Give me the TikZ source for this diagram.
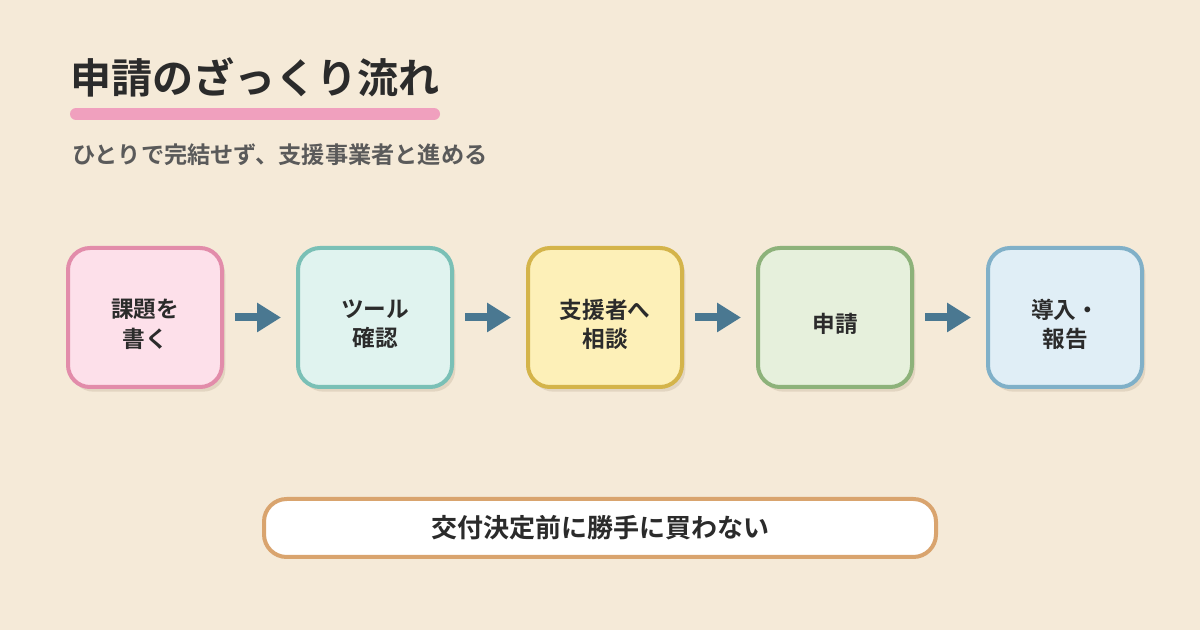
\documentclass[tikz,border=0pt]{standalone}
\usepackage{fontspec}
\setmainfont{Noto Sans CJK JP}[BoldFont=Noto Sans CJK JP Bold]
\usetikzlibrary{positioning,shadows,arrows.meta}
\definecolor{bgcream}{HTML}{F5EAD8}
\definecolor{textdark}{HTML}{2B2B2B}
\definecolor{textgray}{HTML}{5A5A5A}
\definecolor{barpink}{HTML}{F0A0BE}
\definecolor{arrowblue}{HTML}{4A7891}
\definecolor{notebrown}{HTML}{D9A46E}
\tikzset{
    title text/.style={inner sep=0pt, text=textdark, font=\fontsize{30.8}{36}\selectfont\bfseries},
    sub text/.style={inner sep=0pt, text=textgray, font=\fontsize{17.4}{21}\selectfont\bfseries},
    step box/.style={rounded corners=16.5pt, draw, line width=3pt, minimum width=115.5pt, minimum height=104.25pt,
        outer sep=0pt,
        drop shadow={shadow xshift=2.5pt, shadow yshift=-3.5pt, fill=brown!50!black, opacity=0.12}},
    box text/.style={label={[align=center, text=textdark, yshift=-5pt,
        font=\fontsize{17}{22}\selectfont\bfseries]center:#1}},
    flow arrow/.style={draw=arrowblue, line width=6pt, -{Triangle[length=18pt,width=21pt]},
        shorten <=9.75pt, shorten >=12.75pt},
    note box/.style={rounded corners=17pt, draw=notebrown, fill=white, line width=3pt, minimum width=504pt,
        minimum height=43.5pt, text=textdark, font=\fontsize{19.5}{24}\selectfont\bfseries},
}
\begin{document}
\begin{tikzpicture}[x=0.75pt, y=-0.75pt, node distance=57pt]
    \fill[bgcream] (0,0) rectangle (1200,630);

    % heading
    \node[title text, anchor=west] (title) at (70,77) {申請のざっくり流れ};
    \draw[barpink, line width=9pt, line cap=round] (76,114) -- (434,114);
    \node[sub text, anchor=west] (sub) at (72,155) {ひとりで完結せず、支援事業者と進める};

    % steps
    \node[step box, draw={rgb,255:red,226;green,140;blue,170}, fill={rgb,255:red,253;green,224;blue,234},
        box text={課題を\\書く}] (kadai) at (145,317.5) {};
    \node[step box, draw={rgb,255:red,122;green,192;blue,182}, fill={rgb,255:red,224;green,243;blue,239},
        box text={ツール\\確認}, right=of kadai] (tool) {};
    \node[step box, draw={rgb,255:red,212;green,180;blue,74}, fill={rgb,255:red,253;green,240;blue,184},
        box text={支援者へ\\相談}, right=of tool] (soudan) {};
    \node[step box, draw={rgb,255:red,141;green,178;blue,122}, fill={rgb,255:red,230;green,240;blue,220},
        box text={申請}, right=of soudan] (shinsei) {};
    \node[step box, draw={rgb,255:red,128;green,176;blue,200}, fill={rgb,255:red,224;green,238;blue,246},
        box text={導入・\\報告}, right=of shinsei] (dounyu) {};

    \foreach \from/\to in {kadai/tool, tool/soudan, soudan/shinsei, shinsei/dounyu}
        \draw[flow arrow] (\from) -- (\to);

    % caution
    \node[note box] (note) at (600,528) {交付決定前に勝手に買わない};
\end{tikzpicture}
\end{document}
